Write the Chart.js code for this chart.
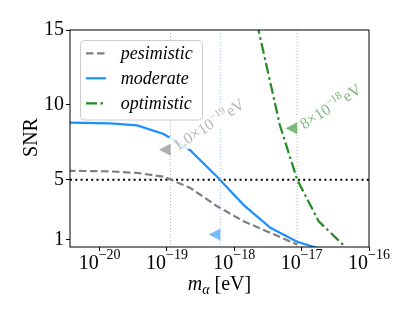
<!DOCTYPE html>
<html><head><meta charset="utf-8">
<script src="https://cdn.jsdelivr.net/npm/chart.js@4.4.1/dist/chart.umd.min.js"></script>
<style>html,body{margin:0;padding:0;background:#fff;}</style>
</head><body>
<canvas id="c" width="415" height="320"></canvas>
<script>
// ---- data ----
const masses = [2.33e-21, 5.78e-21, 1.44e-20, 3.6e-20, 8.93e-20, 2.23e-19, 5.55e-19, 1.38e-18, 3.44e-18, 8.57e-18, 2.13e-17];
const snrPesimistic = [5.6, 5.58, 5.55, 5.45, 5.2, 4.44, 3.22, 2.22, 1.44, 0.67, null];
const snrModerate   = [8.83, 8.8, 8.76, 8.63, 8.05, 6.95, 5.2, 3.3, 1.78, 0.85, 0.3];
const massOptimistic = [1.86e-18, 4.73e-18, 8.57e-18, 1.79e-17, 4.23e-17];
const snrOptimistic  = [16.8, 8.67, 5.0, 2.22, 0.6];
const seriesNames = ["pesimistic", "moderate", "optimistic"];
const thresholdSNR = 5;
const crossMasses = [1.13e-19, 6.2e-19, 8.57e-18];
const markerSNR = [7.0, 1.33, 8.43];
const labelMantissa = ["1.0", null, "8"];
const labelExponent = ["\u221219", null, "\u221218"];
const xTickExponents = [-20, -19, -18, -17, -16];
const yTickValues = [1, 5, 10, 15];
const xMin = 3.63e-21, xMax = 1e-16, yMin = 0.5, yMax = 15;

// ---- styles ----
const serif = '"Liberation Serif", "DejaVu Serif", serif';
const lineColors = ['#7f7f7f', '#1e8fff', '#228b22'];
const lineDashes = [[7.5, 3.5], [], [11, 3.5, 2.5, 3.5]];
const vColors = ['rgba(150,165,185,0.7)', 'rgba(100,170,255,0.65)', 'rgba(90,190,90,0.7)'];
const markerColors = ['rgba(120,120,120,0.6)', 'rgba(30,143,255,0.6)', 'rgba(34,139,34,0.6)'];
const labelColors = ['rgba(120,120,120,0.55)', 'rgba(30,143,255,0.55)', 'rgba(34,139,34,0.6)'];

const pts = (xs, ys) => xs.map((x, i) => ({x: x, y: ys[i]})).filter(p => p.y !== null);

const datasets = [
  {label: seriesNames[0], data: pts(masses, snrPesimistic), borderColor: lineColors[0], borderDash: lineDashes[0], borderWidth: 2.2, order: 1},
  {label: seriesNames[1], data: pts(masses, snrModerate), borderColor: lineColors[1], borderDash: lineDashes[1], borderWidth: 2.2, order: 1},
  {label: seriesNames[2], data: pts(massOptimistic, snrOptimistic), borderColor: lineColors[2], borderDash: lineDashes[2], borderWidth: 2.2, order: 1},
  {label: 'threshold', data: [{x: xMin, y: thresholdSNR}, {x: xMax, y: thresholdSNR}], borderColor: '#000', borderDash: [2, 3.3], borderWidth: 2, order: 2},
];
crossMasses.forEach((m, i) => {
  datasets.push({label: 'v' + i, data: [{x: m, y: yMin}, {x: m, y: yMax}], borderColor: vColors[i], borderDash: [1, 2], borderWidth: 1, order: 3});
});
datasets.forEach(d => { d.pointRadius = 0; d.tension = 0; d.fill = false; });

const overlay = {
  id: 'overlay',
  afterDraw(chart) {
    const ctx = chart.ctx, xs = chart.scales.x, ys = chart.scales.y, a = chart.chartArea;
    // markers + labels
    crossMasses.forEach((m, i) => {
      const px = xs.getPixelForValue(m), py = ys.getPixelForValue(markerSNR[i]);
      ctx.save();
      ctx.fillStyle = markerColors[i];
      ctx.beginPath();
      ctx.moveTo(px, py - 6); ctx.lineTo(px, py + 6); ctx.lineTo(px - 11.5, py); ctx.closePath();
      ctx.fill();
      if (labelMantissa[i]) {
        ctx.translate(px + 7, py + 1.5);
        ctx.rotate(-33 * Math.PI / 180);
        ctx.textAlign = 'left'; ctx.textBaseline = 'alphabetic';
        const t = labelMantissa[i] + '\u00d710';
        ctx.font = '16px ' + serif;
        const w0 = ctx.measureText(t).width;
        ctx.font = '11px ' + serif;
        const we = ctx.measureText(labelExponent[i]).width + 0.5;
        ctx.font = '16px ' + serif;
        const wv = ctx.measureText('eV').width;
        ctx.fillStyle = 'rgba(255,255,255,0.85)';
        ctx.fillRect(-2, -16, w0 + we + wv + 4, 20);
        ctx.fillStyle = labelColors[i];
        ctx.fillText(t, 0, 0);
        ctx.font = '11px ' + serif;
        ctx.fillText(labelExponent[i], w0, -6.5);
        ctx.font = '16px ' + serif;
        ctx.fillText('eV', w0 + we, 0);
      }
      ctx.restore();
    });
    // legend
    ctx.save();
    const lx = 80.5, ly = 40.5, lw = 122, lh = 79.5, r = 4;
    ctx.beginPath();
    ctx.moveTo(lx + r, ly); ctx.lineTo(lx + lw - r, ly); ctx.quadraticCurveTo(lx + lw, ly, lx + lw, ly + r);
    ctx.lineTo(lx + lw, ly + lh - r); ctx.quadraticCurveTo(lx + lw, ly + lh, lx + lw - r, ly + lh);
    ctx.lineTo(lx + r, ly + lh); ctx.quadraticCurveTo(lx, ly + lh, lx, ly + lh - r);
    ctx.lineTo(lx, ly + r); ctx.quadraticCurveTo(lx, ly, lx + r, ly); ctx.closePath();
    ctx.fillStyle = 'rgba(255,255,255,0.8)'; ctx.fill();
    ctx.strokeStyle = '#cccccc'; ctx.lineWidth = 1; ctx.stroke();
    seriesNames.forEach((n, i) => {
      const y = 53.3 + 25 * i;
      ctx.setLineDash(lineDashes[i]); ctx.strokeStyle = lineColors[i]; ctx.lineWidth = 2.2;
      ctx.beginPath(); ctx.moveTo(86, y); ctx.lineTo(106, y); ctx.stroke();
      ctx.setLineDash([]);
      ctx.fillStyle = '#000'; ctx.font = 'italic 18px ' + serif;
      ctx.textAlign = 'left'; ctx.textBaseline = 'alphabetic';
      ctx.fillText(n, 120.7, y + 5.5);
    });
    ctx.restore();
    // frame
    ctx.save();
    ctx.strokeStyle = '#000'; ctx.lineWidth = 1;
    ctx.strokeRect(a.left, a.top, a.right - a.left, a.bottom - a.top);
    // x tick labels
    ctx.fillStyle = '#000'; ctx.textAlign = 'left'; ctx.textBaseline = 'alphabetic';
    xTickExponents.forEach(e => {
      const px = xs.getPixelForValue(Math.pow(10, e));
      ctx.font = '20px ' + serif; const w1 = ctx.measureText('10').width;
      const ex = '\u2212' + Math.abs(e);
      ctx.font = '14px ' + serif; const w2 = ctx.measureText(ex).width;
      const s = px - (w1 + w2) / 2;
      ctx.font = '20px ' + serif; ctx.fillText('10', s, 269);
      ctx.font = '14px ' + serif; ctx.fillText(ex, s + w1, 259);
    });
    // x title
    ctx.font = 'italic 20px ' + serif; const wm = ctx.measureText('m').width;
    ctx.font = 'italic 14px ' + serif; const wa = ctx.measureText('\u03b1').width;
    ctx.font = '20px ' + serif; const wb = ctx.measureText(' [eV]').width;
    const cx = (a.left + a.right) / 2;
    let sx = cx - (wm + wa + wb) / 2;
    ctx.font = 'italic 20px ' + serif; ctx.fillText('m', sx, 290);
    ctx.font = 'italic 14px ' + serif; ctx.fillText('\u03b1', sx + wm, 294);
    ctx.font = '20px ' + serif; ctx.fillText(' [eV]', sx + wm + wa, 290);
    // y title
    ctx.translate(36.7, (a.top + a.bottom) / 2 - 1);
    ctx.rotate(-Math.PI / 2);
    ctx.textAlign = 'center';
    ctx.fillText('SNR', 0, 0);
    ctx.restore();
  }
};

new Chart(document.getElementById('c'), {
  type: 'line',
  data: {datasets: datasets},
  options: {
    responsive: false, animation: false, devicePixelRatio: 1,
    layout: {padding: {top: 30, right: 46, left: 0, bottom: 0}},
    plugins: {legend: {display: false}, tooltip: {enabled: false}},
    scales: {
      x: {
        type: 'logarithmic', min: xMin, max: xMax,
        afterBuildTicks: s => { s.ticks = xTickExponents.map(e => ({value: Math.pow(10, e)})); },
        afterFit: s => { s.height = 73; },
        ticks: {display: false},
        grid: {display: true, drawOnChartArea: false, drawTicks: true, tickLength: 4, color: '#000', lineWidth: 1},
        border: {display: false}
      },
      y: {
        type: 'linear', min: yMin, max: yMax,
        afterBuildTicks: s => { s.ticks = yTickValues.map(v => ({value: v})); },
        afterFit: s => { s.width = 70; },
        ticks: {font: {family: serif, size: 20}, color: '#000', padding: 2, callback: v => String(v)},
        grid: {display: true, drawOnChartArea: false, drawTicks: true, tickLength: 4, color: '#000', lineWidth: 1},
        border: {display: false}
      }
    }
  },
  plugins: [overlay]
});
</script>
</body></html>
